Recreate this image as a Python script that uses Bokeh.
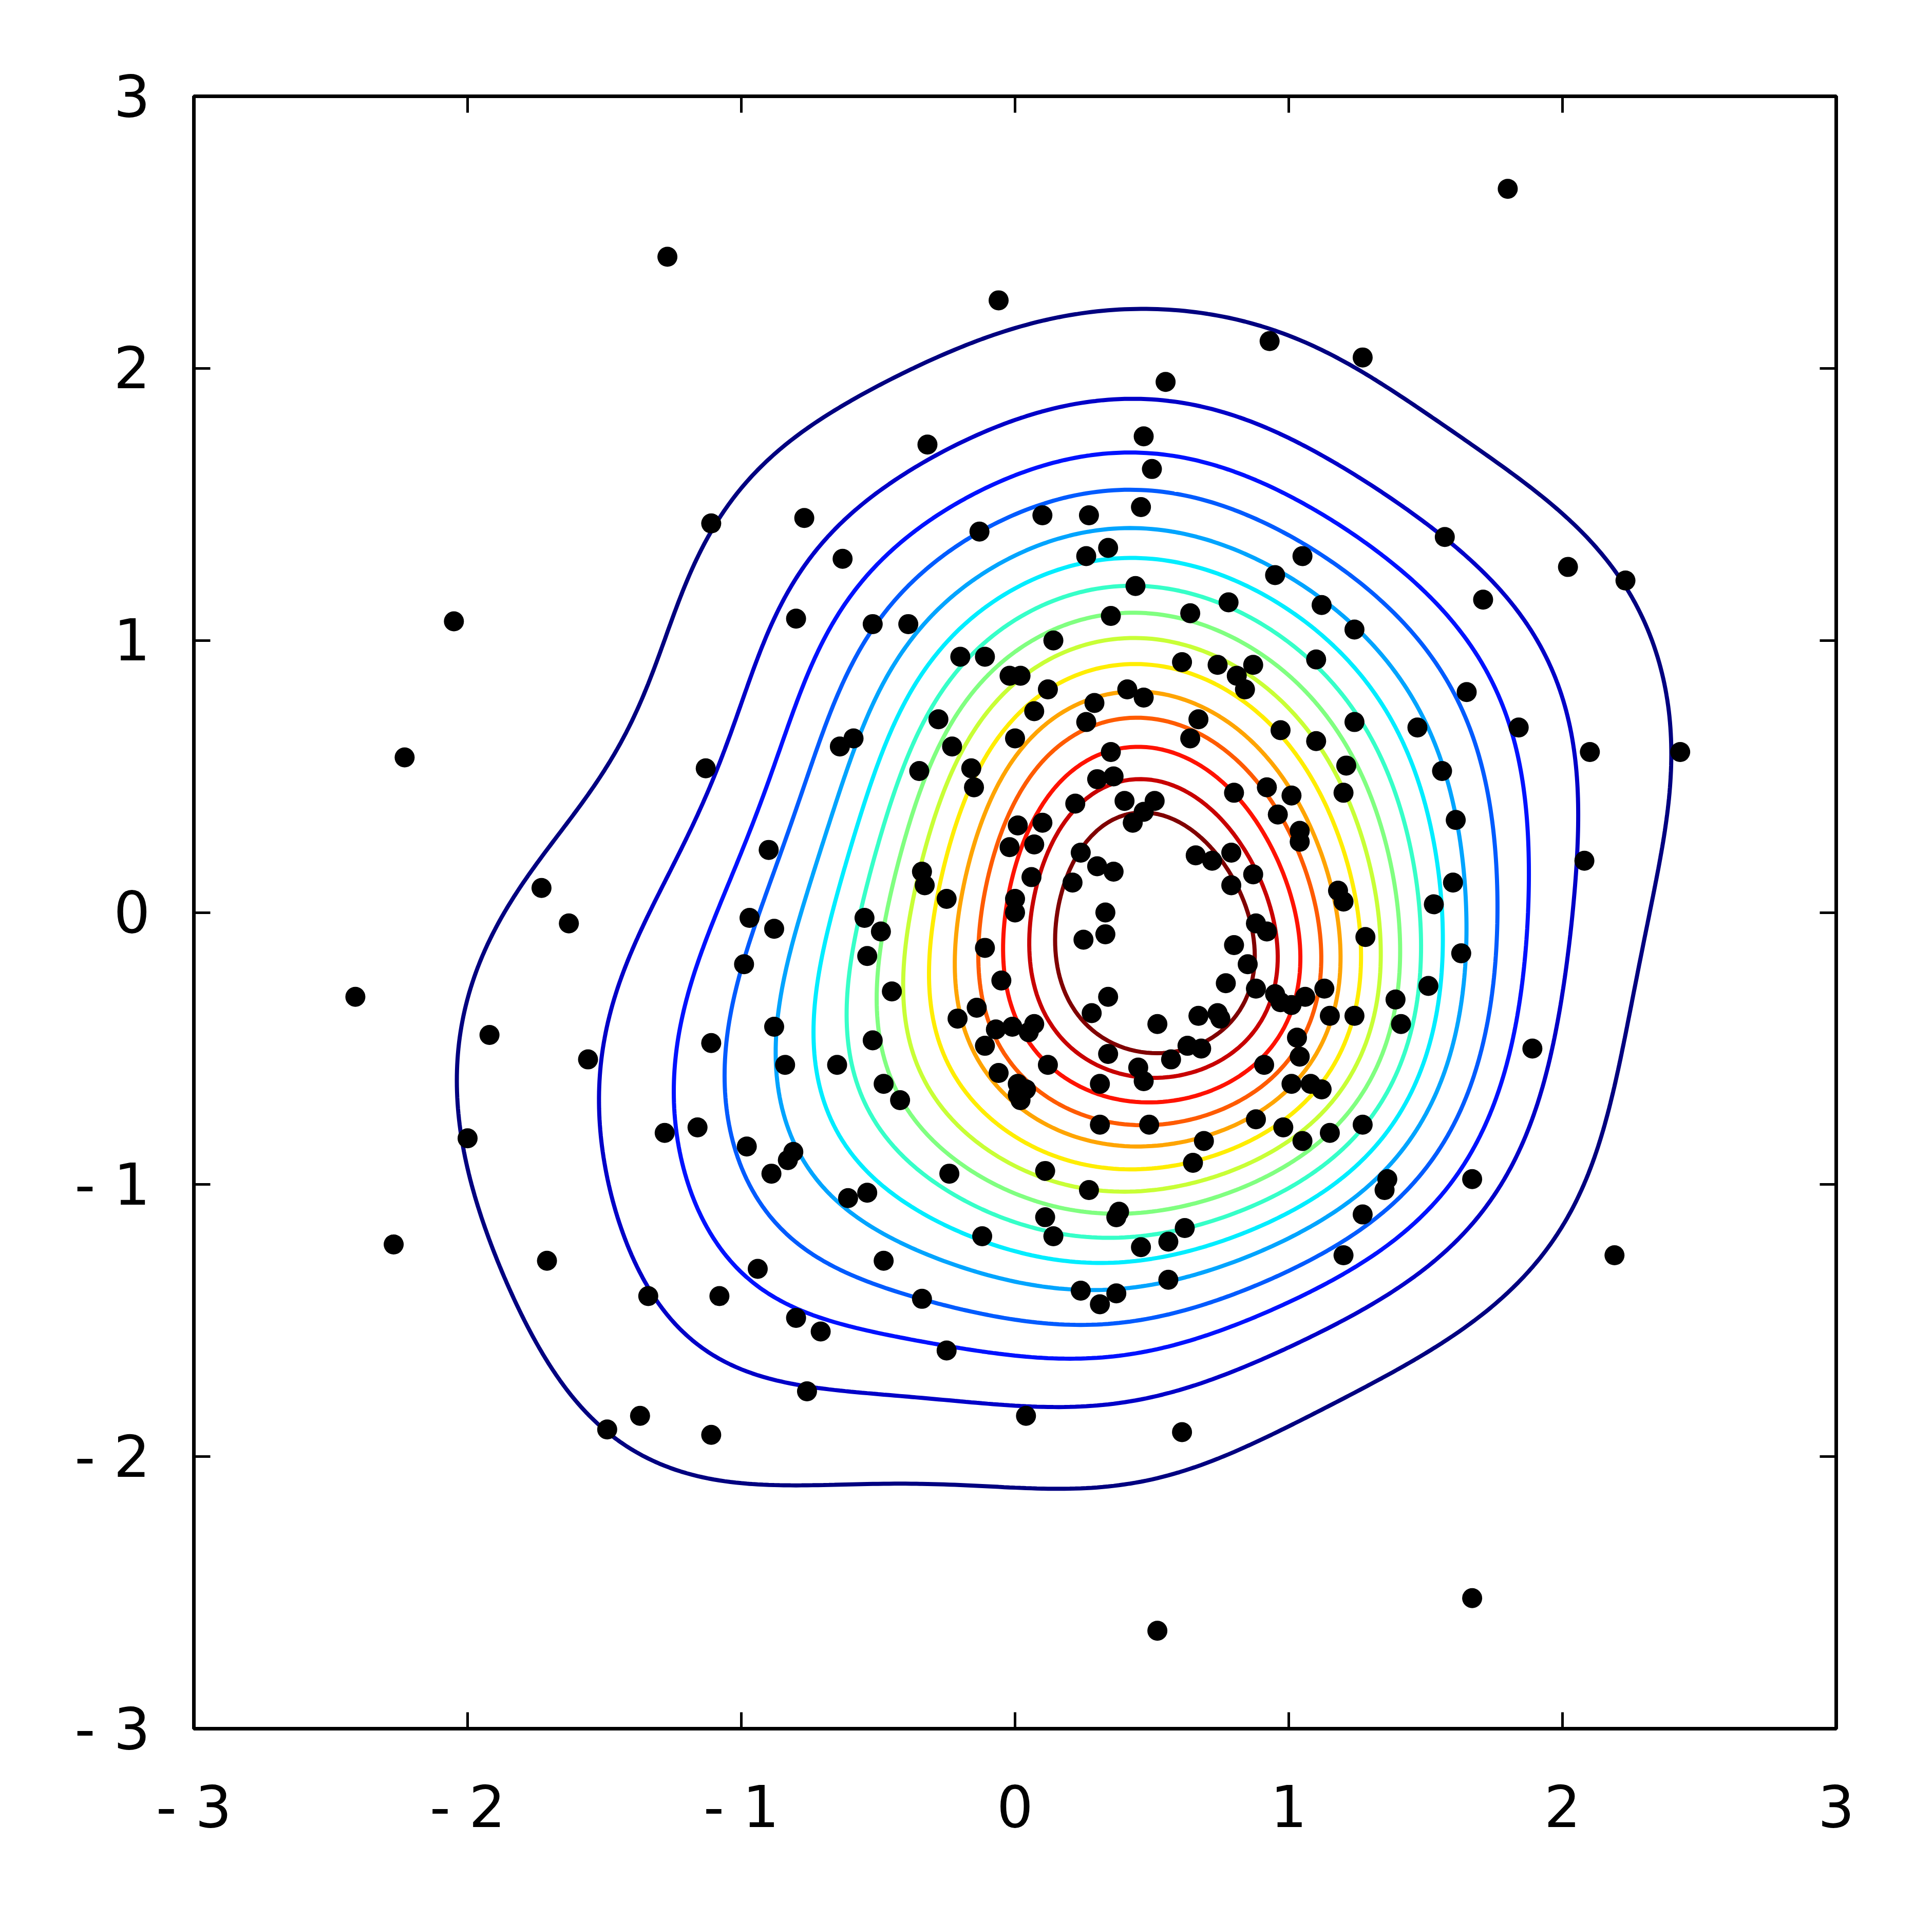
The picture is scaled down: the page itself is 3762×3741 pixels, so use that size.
import numpy as np
from bokeh.plotting import figure
from bokeh.models import Range1d, FixedTicker, LinearAxis, CustomJSTickFormatter
from bokeh.embed import file_html
from bokeh.resources import INLINE

# ---------------- data ----------------
pts_x = [1.80, -1.27, -0.06, 0.93, 1.27, 0.55, -0.32, 0.47, 0.50, -1.11,
         -0.77, 0.10, 0.27, 0.46, -0.13, 0.34, 1.57, -0.63, 0.26, 1.05,
         0.95, 0.44, 2.02, 2.23, 1.12, 1.71, 0.78, -2.05, -0.80, -0.52,
         -0.39, 0.35, 0.64, 1.24, 0.14, 1.10, -0.20, -0.11, -0.02, 0.02,
         0.61, 0.74, 0.87, 0.81, 0.84, 0.12, 0.41, 0.47, 1.65, 0.29,
         0.07, -0.28, 0.67, 1.24, 0.26, 1.47, 1.84, 0.97, -0.59, -0.64,
         0.00, 0.64, -2.23, 2.10, 2.43, -0.23, 0.35, 1.10, -1.13, -0.35,
         -0.16, 1.21, 1.56, -0.15, 0.30, 0.36, 0.92, 0.80, 1.20, 1.01,
         0.40, 0.51, 0.47, 0.22, 0.96, 0.43, 1.61, 0.01, 0.10, 1.04,
         1.04, 0.07, -0.02, 0.24, 0.66, 0.79, 0.72, 2.08, -0.90, 0.30,
         0.36, 0.87, -0.34, -0.33, -1.73, 0.06, 0.21, 0.79, 1.60, 1.18,
         1.20, -0.25, 0.00, 0.00, 1.53, -0.97, -1.63, -0.55, -0.88, 0.33,
         -0.49, 0.88, 0.92, 0.33, 0.25, 1.28, 0.80, -0.11, -0.54, 1.63,
         0.85, -0.99, -0.05, 0.77, 1.51, 1.13, 0.88, -0.45, 0.95, 0.97,
         1.06, 1.01, -2.41, 0.34, 1.39, -0.14, -0.21, 0.67, 0.74, 0.75,
         0.28, 1.24, 1.15, 1.41, 0.52, 0.07, -0.07, -0.01, 0.05, -0.88,
         -1.92, 1.03, -0.52, -1.11, 0.63, 0.68, -0.11, 0.34, 1.89, 1.04,
         0.57, -1.56, 0.12, -0.84, -0.65, 0.91, 0.45, -0.06, 0.47, 1.01,
         1.08, 1.12, -0.48, 0.31, 0.01, 0.04, 0.01, 0.02, -0.42, 0.88,
         -1.28, -1.16, -2.00, 0.31, 0.49, 0.98, 1.15, 1.27, 1.05, 0.69,
         -0.98, -0.81, -0.83, 0.65, 0.11, -0.24, -0.89, 1.67, 1.36, 1.35,
         -0.54, -0.61, 0.27, 0.38, 0.37, 0.11, 0.14, -0.12, 0.62, 1.27,
         0.56, 0.46, -2.27, 1.20, 2.19, -1.71, -0.48, -0.94, 0.56, 0.24,
         0.37, 0.31, -1.34, -1.08, -0.34, -0.80, -0.71, -0.25, -0.76, 0.04,
         -1.37, -1.49, -1.11, 0.61, 1.67, 0.52]
pts_y = [2.66, 2.41, 2.25, 2.10, 2.04, 1.95, 1.72, 1.75, 1.63, 1.43,
         1.45, 1.46, 1.46, 1.49, 1.40, 1.34, 1.38, 1.30, 1.31, 1.31,
         1.24, 1.20, 1.27, 1.22, 1.13, 1.15, 1.14, 1.07, 1.08, 1.06,
         1.06, 1.09, 1.10, 1.04, 1.00, 0.93, 0.94, 0.94, 0.87, 0.87,
         0.92, 0.91, 0.91, 0.87, 0.82, 0.82, 0.82, 0.79, 0.81, 0.77,
         0.74, 0.71, 0.71, 0.70, 0.70, 0.68, 0.68, 0.67, 0.64, 0.61,
         0.64, 0.64, 0.57, 0.59, 0.59, 0.61, 0.59, 0.63, 0.53, 0.52,
         0.53, 0.54, 0.52, 0.46, 0.49, 0.50, 0.46, 0.44, 0.44, 0.43,
         0.41, 0.41, 0.37, 0.40, 0.36, 0.33, 0.34, 0.32, 0.33, 0.30,
         0.26, 0.25, 0.24, 0.22, 0.21, 0.22, 0.19, 0.19, 0.23, 0.17,
         0.15, 0.14, 0.15, 0.10, 0.09, 0.13, 0.11, 0.10, 0.11, 0.08,
         0.04, 0.05, 0.05, 0.00, 0.03, -0.02, -0.04, -0.02, -0.06, 0.00,
         -0.07, -0.04, -0.07, -0.08, -0.10, -0.09, -0.12, -0.13, -0.16, -0.15,
         -0.19, -0.19, -0.25, -0.26, -0.27, -0.28, -0.28, -0.29, -0.30, -0.33,
         -0.31, -0.34, -0.31, -0.31, -0.32, -0.35, -0.39, -0.38, -0.37, -0.39,
         -0.37, -0.38, -0.38, -0.41, -0.41, -0.41, -0.43, -0.42, -0.44, -0.42,
         -0.45, -0.46, -0.47, -0.48, -0.49, -0.50, -0.49, -0.52, -0.50, -0.53,
         -0.54, -0.54, -0.56, -0.56, -0.56, -0.56, -0.57, -0.59, -0.62, -0.63,
         -0.63, -0.65, -0.63, -0.63, -0.63, -0.65, -0.67, -0.69, -0.69, -0.76,
         -0.81, -0.79, -0.83, -0.78, -0.78, -0.79, -0.81, -0.78, -0.84, -0.84,
         -0.86, -0.88, -0.91, -0.92, -0.95, -0.96, -0.96, -0.98, -0.98, -1.02,
         -1.03, -1.05, -1.02, -1.10, -1.12, -1.12, -1.19, -1.19, -1.16, -1.11,
         -1.21, -1.23, -1.22, -1.26, -1.26, -1.28, -1.28, -1.31, -1.35, -1.39,
         -1.40, -1.44, -1.41, -1.41, -1.42, -1.49, -1.54, -1.61, -1.76, -1.85,
         -1.85, -1.90, -1.92, -1.91, -2.52, -2.64]

tick_values = [-3, -2, -1, 0, 1, 2, 3]
tick_labels = ["- 3", "- 2", "- 1", "0", "1", "2", "3"]

# where each of the 15 contour lines (outer navy -> inner maroon) crosses
# the line y = 0.03 (left / right) and the line x = 0.26 (up / down)
cross_left_x = [-2.196, -1.411, -1.130, -0.957, -0.838, -0.735, -0.651, -0.568,
                -0.500, -0.416, -0.333, -0.260, -0.168, -0.075, 0.046]
cross_right_x = [2.079, 1.839, 1.690, 1.570, 1.466, 1.374, 1.292, 1.212,
                 1.132, 1.055, 0.974, 0.892, 0.804, 0.705, 0.581]
cross_up_y = [2.298, 1.988, 1.775, 1.666, 1.471, 1.351, 1.239, 1.133,
              1.037, 0.948, 0.846, 0.758, 0.663, 0.529, 0.406]
cross_down_y = [-2.093, -1.850, -1.695, -1.564, -1.446, -1.344, -1.236, -1.132,
                -1.027, -0.921, -0.813, -0.694, -0.568, -0.430, -0.270]
cross_row_y = 0.03
cross_col_x = 0.26

# jet colormap sampled at the 15 contour levels (outer -> inner)
JET = ["#000080", "#0000c8", "#0012ff", "#005bff", "#00a4ff",
       "#00edff", "#36ffc8", "#80ff80", "#c8ff36", "#ffed00",
       "#ffa400", "#ff5b00", "#ff1200", "#c80000", "#800000"]

# ---------------- kernel density of the points ----------------
X = np.array(pts_x)
Y = np.array(pts_y)
bw = 0.50

def density(qx, qy):
    qx = np.asarray(qx, float)
    qy = np.asarray(qy, float)
    out = np.zeros(np.broadcast(qx, qy).shape)
    for xi, yi in zip(X, Y):
        out += np.exp(-((qx - xi) ** 2 + (qy - yi) ** 2) / (2 * bw * bw))
    return out

gx = np.linspace(-3, 3, 301)
gy = np.linspace(-3, 3, 301)
GX, GY = np.meshgrid(gx, gy)
Z = density(GX, GY)

# contour levels: density at the picture's crossing points, one level per line
levels = []
for k in range(len(JET)):
    v = [density(cross_left_x[k], cross_row_y), density(cross_right_x[k], cross_row_y),
         density(cross_col_x, cross_up_y[k]), density(cross_col_x, cross_down_y[k])]
    levels.append(float(np.exp(np.mean(np.log(v)))))
zmax = float(Z.max())
for k in range(1, len(levels)):
    levels[k] = max(levels[k], levels[k - 1] * 1.001)
levels = [min(l, zmax * (0.97 + 0.002 * k)) for k, l in enumerate(levels)]

# ---------------- figure ----------------
p = figure(frame_width=3198, frame_height=3179,
           x_range=Range1d(-3, 3), y_range=Range1d(-3, 3),
           output_backend="svg", toolbar_location=None,
           min_border_left=377, min_border_right=179,
           min_border_top=187, min_border_bottom=369,
           background_fill_color="white", border_fill_color="white")
p.grid.visible = False
p.outline_line_color = "black"
p.outline_line_width = 7

p.contour(gx, gy, Z, levels, line_color=JET, line_width=8)
p.scatter(pts_x, pts_y, size=39, color="black", line_color=None)

overrides = {v: s for v, s in zip(tick_values, tick_labels)}
FONT = "DejaVu Sans"

def style(ax, labelled):
    ax.ticker = FixedTicker(ticks=tick_values)
    ax.axis_line_color = "black"
    ax.axis_line_width = 7
    ax.major_tick_line_color = "black"
    ax.major_tick_line_width = 5
    ax.major_tick_in = 32
    ax.major_tick_out = 0
    ax.minor_tick_line_color = None
    if labelled:
        ax.major_label_overrides = overrides
        ax.major_label_text_font = FONT
        ax.major_label_text_font_size = "112px"
        ax.major_label_text_color = "black"
    else:
        ax.formatter = CustomJSTickFormatter(code="return ''")
        ax.major_label_text_font_size = "10px"

style(p.xaxis[0], True)
style(p.yaxis[0], True)
p.xaxis[0].major_label_standoff = 87
p.yaxis[0].major_label_standoff = 85

top = LinearAxis()
right = LinearAxis()
style(top, False)
style(right, False)
p.add_layout(top, "above")
p.add_layout(right, "right")

open("out.html", "w").write(file_html(p, INLINE))
